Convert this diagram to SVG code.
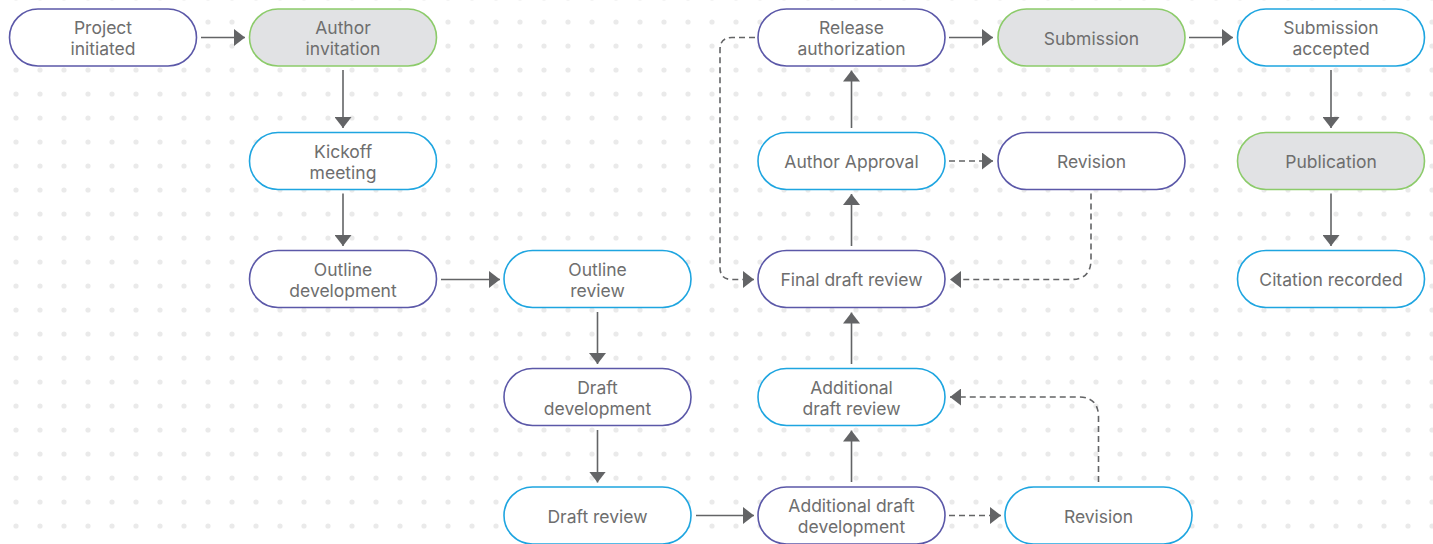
<svg xmlns="http://www.w3.org/2000/svg" width="1433" height="544" viewBox="0 0 1433 544">
<style>
.n rect{stroke-width:1.6}
.p rect{fill:#fff;stroke:#5b58a8}
.b rect{fill:#fff;stroke:#1ea5e0}
.g rect{fill:#e1e2e4;stroke:#8ccb6a}
text{font-family:Inter,"Noto Sans","Liberation Sans",sans-serif;font-size:17.5px;fill:#6e6e6e;text-anchor:middle}
.c path{fill:none;stroke:#636466;stroke-width:1.6}
.c .d{stroke-dasharray:6 4}
</style>
<defs>
<pattern id="dots" patternUnits="userSpaceOnUse" x="4" y="-14" width="24" height="24">
<circle cx="12" cy="12" r="2.6" fill="#eaeaea"/>
</pattern>
<marker id="ah" markerUnits="userSpaceOnUse" viewBox="0 0 11 17" refX="11" refY="8.5" markerWidth="11" markerHeight="17" orient="auto">
<path d="M0,0 L11,8.5 L0,17 Z" fill="#636466"/>
</marker>
</defs>
<rect width="1433" height="544" fill="#fff"/>
<rect width="1433" height="544" fill="url(#dots)"/>
<g id="connectors" class="c">
<path d="M201,37.5 H245" marker-end="url(#ah)"/>
<path d="M343,70 V128" marker-end="url(#ah)"/>
<path d="M343,193.5 V246" marker-end="url(#ah)"/>
<path d="M441,279.5 H500" marker-end="url(#ah)"/>
<path d="M597.5,312 V364" marker-end="url(#ah)"/>
<path d="M597.5,430 V482.5" marker-end="url(#ah)"/>
<path d="M696,515.5 H754" marker-end="url(#ah)"/>
<path class="d" d="M949,515.5 H1001" marker-end="url(#ah)"/>
<path class="d" d="M1098.5,482 V417 Q1098.5,397 1078.5,397 H950" marker-end="url(#ah)"/>
<path d="M851.5,482 V430.5" marker-end="url(#ah)"/>
<path d="M851.5,364 V312.5" marker-end="url(#ah)"/>
<path class="d" d="M1091,193.5 V259.5 Q1091,279.5 1071,279.5 H950" marker-end="url(#ah)"/>
<path d="M851.5,246 V194" marker-end="url(#ah)"/>
<path class="d" d="M949,161 H993" marker-end="url(#ah)"/>
<path d="M851.5,128 V70.5" marker-end="url(#ah)"/>
<path class="d" d="M755,37.5 H732 Q720,37.5 720,49.5 V267.5 Q720,279.5 732,279.5 H754" marker-end="url(#ah)"/>
<path d="M949,37.5 H993" marker-end="url(#ah)"/>
<path d="M1189,37.5 H1233" marker-end="url(#ah)"/>
<path d="M1331,70 V128" marker-end="url(#ah)"/>
<path d="M1331,193.5 V246" marker-end="url(#ah)"/>
</g>
<g id="project-initiated" class="n p"><rect x="9.5" y="9" width="187" height="57" rx="28.5"/><text x="103" y="34">Project</text><text x="103" y="55">initiated</text></g>
<g id="author-invitation" class="n g"><rect x="249.5" y="9" width="187" height="57" rx="28.5"/><text x="343" y="34">Author</text><text x="343" y="55">invitation</text></g>
<g id="kickoff-meeting" class="n b"><rect x="249.5" y="132.5" width="187" height="57" rx="28.5"/><text x="343" y="157.5">Kickoff</text><text x="343" y="178.5">meeting</text></g>
<g id="outline-development" class="n p"><rect x="249.5" y="250.5" width="187" height="57" rx="28.5"/><text x="343" y="275.5">Outline</text><text x="343" y="296.5">development</text></g>
<g id="outline-review" class="n b"><rect x="504" y="250.5" width="187" height="57" rx="28.5"/><text x="597.5" y="275.5">Outline</text><text x="597.5" y="296.5">review</text></g>
<g id="draft-development" class="n p"><rect x="504" y="368.5" width="187" height="57" rx="28.5"/><text x="597.5" y="393.5">Draft</text><text x="597.5" y="414.5">development</text></g>
<g id="draft-review" class="n b"><rect x="504" y="487" width="187" height="57" rx="28.5"/><text x="597.5" y="522.5">Draft review</text></g>
<g id="additional-draft-development" class="n p"><rect x="758" y="487" width="187" height="57" rx="28.5"/><text x="851.5" y="512">Additional draft</text><text x="851.5" y="533">development</text></g>
<g id="revision-bottom" class="n b"><rect x="1005" y="487" width="187" height="57" rx="28.5"/><text x="1098.5" y="522.5">Revision</text></g>
<g id="additional-draft-review" class="n b"><rect x="758" y="368.5" width="187" height="57" rx="28.5"/><text x="851.5" y="393.5">Additional</text><text x="851.5" y="414.5">draft review</text></g>
<g id="final-draft-review" class="n p"><rect x="758" y="250.5" width="187" height="57" rx="28.5"/><text x="851.5" y="286">Final draft review</text></g>
<g id="author-approval" class="n b"><rect x="758" y="132.5" width="187" height="57" rx="28.5"/><text x="851.5" y="168">Author Approval</text></g>
<g id="revision-top" class="n p"><rect x="998" y="132.5" width="187" height="57" rx="28.5"/><text x="1091.5" y="168">Revision</text></g>
<g id="release-authorization" class="n p"><rect x="758" y="9" width="187" height="57" rx="28.5"/><text x="851.5" y="34">Release</text><text x="851.5" y="55">authorization</text></g>
<g id="submission" class="n g"><rect x="998" y="9" width="187" height="57" rx="28.5"/><text x="1091.5" y="44.5">Submission</text></g>
<g id="submission-accepted" class="n b"><rect x="1237.5" y="9" width="187" height="57" rx="28.5"/><text x="1331" y="34">Submission</text><text x="1331" y="55">accepted</text></g>
<g id="publication" class="n g"><rect x="1237.5" y="132.5" width="187" height="57" rx="28.5"/><text x="1331" y="168">Publication</text></g>
<g id="citation-recorded" class="n b"><rect x="1237.5" y="250.5" width="187" height="57" rx="28.5"/><text x="1331" y="286">Citation recorded</text></g>
</svg>
